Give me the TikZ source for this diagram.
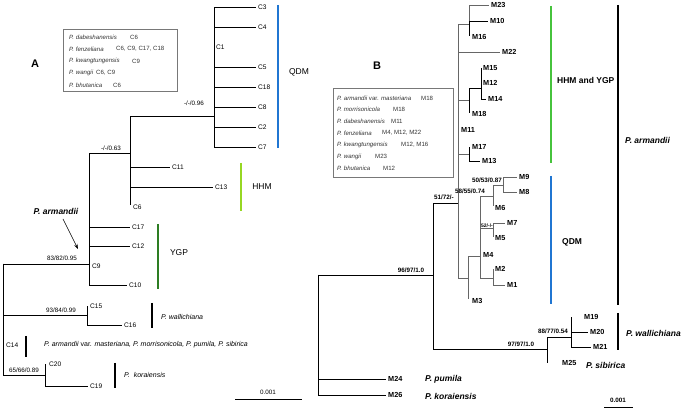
\documentclass[tikz,border=0pt]{standalone}
\usepackage{fontspec}
\setmainfont{Liberation Sans}
\usetikzlibrary{arrows.meta}
\definecolor{qdmblue}{RGB}{32,118,210}
\definecolor{hhmgreen}{RGB}{150,215,35}
\definecolor{ygpgreen}{RGB}{45,125,35}
\definecolor{bgreen}{RGB}{70,195,60}
\definecolor{boxgray}{RGB}{120,120,120}
\begin{document}
\begin{tikzpicture}[x=1pt,y=-1pt,
 br/.style={line width=0.75pt,draw=black},
 brg/.style={line width=0.75pt,draw=black!60},
 lab/.style={font=\fontsize{6.6}{7}\selectfont,inner sep=2pt,anchor=west},
 blab/.style={font=\bfseries\fontsize{7.3}{8}\selectfont,inner sep=2pt,anchor=west},
 supa/.style={font=\fontsize{6.3}{7}\selectfont,inner sep=0pt},
 supb/.style={font=\bfseries\fontsize{6.3}{7}\selectfont,inner sep=0pt},
 bar/.style={line width=2.4pt},
 leg/.style={font=\fontsize{6.1}{7}\selectfont\itshape,inner sep=0pt,anchor=west,text=black!80},
 legc/.style={font=\fontsize{6.1}{7}\selectfont,inner sep=0pt,anchor=west,text=black!80},
 big/.style={font=\fontsize{8.5}{10}\selectfont,inner sep=0pt},
 bigb/.style={font=\bfseries\fontsize{8.5}{10}\selectfont,inner sep=0pt,anchor=west},
 bigbi/.style={font=\bfseries\itshape\fontsize{8.5}{10}\selectfont,inner sep=0pt},
 spit/.style={font=\itshape\fontsize{7}{8}\selectfont,inner sep=0pt,anchor=west}]
\useasboundingbox (0,0) rectangle (686,411);

%================ Panel A =================
\node[font=\bfseries\fontsize{11}{12}\selectfont] (labA) at (35,64) {A};
\node[draw=boxgray,line width=0.5pt,minimum width=114pt,minimum height=62pt,inner sep=0pt] (legA) at (120,60) {};
\node[leg] (la1) at (69,37) {P. dabeshanensis};  \node[legc] (la1c) at (130,37) {C6};
\node[leg] (la2) at (69,49) {P. fenzeliana};     \node[legc] (la2c) at (116,49) {C6, C9, C17, C18};
\node[leg] (la3) at (69,61) {P. kwangtungensis}; \node[legc] (la3c) at (132,61) {C9};
\node[leg] (la4) at (69,73) {P. wangii};         \node[legc] (la4c) at (96,73) {C6, C9};
\node[leg] (la5) at (69,85) {P. bhutanica};      \node[legc] (la5c) at (113,85) {C6};

% internal nodes
\coordinate (aR) at (3,264);
\coordinate (a1) at (89,264);
\coordinate (a2) at (130,153);
\coordinate (a3) at (214,116);
\coordinate (a4) at (87,315);
\coordinate (a5) at (45,375);
% tips
\coordinate (tC3) at (256,7);   \coordinate (tC4) at (256,27);
\coordinate (tC1) at (214,47);  \coordinate (tC5) at (256,67);
\coordinate (tC18) at (256,87); \coordinate (tC8) at (256,107);
\coordinate (tC2) at (256,127); \coordinate (tC7) at (256,147);
\coordinate (tC11) at (170,167); \coordinate (tC13) at (213,187);
\coordinate (tC6) at (130,205);
\coordinate (tC17) at (130,227); \coordinate (tC12) at (130,246);
\coordinate (tC9) at (89,266);  \coordinate (tC10) at (127,285);
\coordinate (tC15) at (87,306); \coordinate (tC16) at (122,325);
\coordinate (tC14) at (3,345);
\coordinate (tC20) at (45,364); \coordinate (tC19) at (88,386);

\draw[br] (aR) -- (a1);
\draw[br] (aR) |- (a4);
\draw[br] (aR) |- (tC14);
\draw[br] (aR) |- (a5);
\draw[br] (a1) |- (a2);
\draw[br] (a1) |- (tC17);
\draw[br] (a1) |- (tC12);
\draw[br] (a1) |- (tC10);
\draw[br] (a2) |- (a3);
\draw[br] (a2) |- (tC11);
\draw[br] (a2) |- (tC13);
\draw[br] (a2) -- (tC6);
\foreach \t in {tC3,tC4,tC1,tC5,tC18,tC8,tC2,tC7} \draw[br] (a3) |- (\t);
\draw[br] (a4) -- (tC15);
\draw[br] (a4) |- (tC16);
\draw[br] (a5) -- (tC20);
\draw[br] (a5) |- (tC19);

\node[lab] (C3) at (tC3) {C3};
\node[lab] (C4) at (tC4) {C4};
\node[lab] (C1) at (tC1) {C1};
\node[lab] (C5) at (tC5) {C5};
\node[lab] (C18) at (tC18) {C18};
\node[lab] (C8) at (tC8) {C8};
\node[lab] (C2) at (tC2) {C2};
\node[lab] (C7) at (tC7) {C7};
\node[lab] (C11) at (tC11) {C11};
\node[lab] (C13) at (tC13) {C13};
\node[lab,yshift=-2pt,xshift=1pt] (C6) at (tC6) {C6};
\node[lab] (C17) at (tC17) {C17};
\node[lab] (C12) at (tC12) {C12};
\node[lab,xshift=1pt] (C9) at (tC9) {C9};
\node[lab] (C10) at (tC10) {C10};
\node[lab,xshift=1pt] (C15) at (tC15) {C15};
\node[lab] (C16) at (tC16) {C16};
\node[lab,xshift=1pt] (C14) at (tC14) {C14};
\node[lab,xshift=2pt] (C20) at (tC20) {C20};
\node[lab] (C19) at (tC19) {C19};

\node[supa] (sa3) at (194,103) {-/-/0.96};
\node[supa] (sa2) at (111,148) {-/-/0.63};
\node[supa] (sa1) at (62,258) {83/82/0.95};
\node[supa] (sa4) at (61,310) {93/84/0.99};
\node[supa] (sa5) at (24,370) {65/66/0.89};

% clade bars A
\draw[bar,qdmblue] (278,5) -- (278,148);
\node[big] (qdmA) at (299,72) {QDM};
\draw[bar,hhmgreen] (241,163) -- (241,211);
\node[big] (hhmA) at (262,187) {HHM};
\draw[bar,ygpgreen] (158,224) -- (158,289);
\node[big] (ygpA) at (179,253) {YGP};
\draw[bar,black] (152,303) -- (152,328);
\node[spit] (wallA) at (161,317) {P. wallichiana};
\draw[bar,black] (26,336) -- (26,357);
\node[spit] (c14txt) at (44,345) {P. armandii \upshape var.\itshape{} masteriana, P. morrisonicola, P. pumila, P. sibirica};
\draw[bar,black] (115,363) -- (115,388);
\node[spit] (korA) at (124,375) {P. \ koraiensis};

\node[bigbi] (armA) at (56,211) {P. armandii};
\coordinate (arrA1) at (63,219);
\coordinate (arrA2) at (78,249);
\draw[line width=0.6pt,-{Stealth[length=5pt,width=3.5pt]}] (arrA1) -- (arrA2);

\coordinate (scA1) at (235,400); \coordinate (scA2) at (302,400);
\draw[line width=1pt] (scA1) -- (scA2);
\node[supa] (scAl) at (268,392) {0.001};

%================ Panel B =================
\node[font=\bfseries\fontsize{11}{12}\selectfont] (labB) at (377,66) {B};
\node[draw=boxgray,line width=0.5pt,minimum width=120pt,minimum height=89pt,inner sep=0pt] (legB) at (393,132.5) {};
\node[leg] (lb1) at (337,98) {P. armandii \upshape var.\itshape{} masteriana}; \node[legc] (lb1c) at (421,98) {M18};
\node[leg] (lb2) at (337,109.7) {P. morrisonicola};  \node[legc] (lb2c) at (393,109.7) {M18};
\node[leg] (lb3) at (337,121.4) {P. dabeshanensis};  \node[legc] (lb3c) at (391,121.4) {M11};
\node[leg] (lb4) at (337,133.1) {P. fenzeliana};     \node[legc] (lb4c) at (382,133.1) {M4, M12, M22};
\node[leg] (lb5) at (337,144.8) {P. kwangtungensis}; \node[legc] (lb5c) at (401,144.8) {M12, M16};
\node[leg] (lb6) at (337,156.5) {P. wangii};         \node[legc] (lb6c) at (375,156.5) {M23};
\node[leg] (lb7) at (337,168.2) {P. bhutanica};      \node[legc] (lb7c) at (383,168.2) {M12};

% internal nodes
\coordinate (bR) at (318,275);
\coordinate (b1) at (433,275);
\coordinate (b2) at (458,203);
\coordinate (b9) at (547,349);
\coordinate (b3) at (469,24);
\coordinate (b4) at (469,100);
\coordinate (b4a) at (481,88);
\coordinate (b5) at (469,154);
\coordinate (b6) at (468,278);
\coordinate (b7) at (480,256);
\coordinate (b8) at (493,196);
\coordinate (b12) at (503,185);
\coordinate (b10) at (493,228);
\coordinate (b11) at (493,278);
\coordinate (b13) at (571,337);
% tips
\coordinate (tM24) at (386,379); \coordinate (tM26) at (386,395);
\coordinate (tM23) at (489,5);   \coordinate (tM10) at (488,21);  \coordinate (tM16) at (469,36);
\coordinate (tM22) at (500,52);
\coordinate (tM15) at (481,68);  \coordinate (tM12) at (481,83);  \coordinate (tM14) at (486,99);
\coordinate (tM18) at (469,113);
\coordinate (tM11) at (458,130);
\coordinate (tM17) at (469,147); \coordinate (tM13) at (480,161);
\coordinate (tM9) at (517,177);  \coordinate (tM8) at (517,192);
\coordinate (tM6) at (493,206);
\coordinate (tM7) at (505,223);  \coordinate (tM5) at (493,237);
\coordinate (tM4) at (480,255);
\coordinate (tM2) at (493,269);  \coordinate (tM1) at (505,285);
\coordinate (tM3) at (468,299);
\coordinate (tM19) at (571,317); \coordinate (tM20) at (588,332); \coordinate (tM21) at (591,347);
\coordinate (tM25) at (547,363);

\draw[br] (bR) -- (b1);
\draw[br] (bR) |- (tM24);
\draw[br] (bR) |- (tM26);
\draw[br] (b1) |- (b2);
\draw[br] (b1) |- (b9);
\draw[brg] (b2) |- (b3);
\draw[brg] (b2) |- (tM22);
\draw[brg] (b2) |- (b4);
\draw[brg] (b2) -- (tM11);
\draw[brg] (b2) |- (b5);
\draw[brg] (b2) |- (b6);
\draw[brg] (b3) |- (tM23);
\draw[br]  (b3) |- (tM10);
\draw[br]  (b3) -- (tM16);
\draw[br]  (b4) |- (b4a);
\draw[br]  (b4) -- (tM18);
\draw[br]  (b4a) |- (tM15);
\draw[br]  (b4a) |- (tM14);
\draw[br]  (b5) -- (tM17);
\draw[br]  (b5) |- (tM13);
\draw[brg] (b6) |- (b7);
\draw[brg] (b6) -- (tM3);
\draw[brg] (b7) |- (b8);
\draw[brg] (b7) |- (b10);
\draw[brg] (b7) |- (b11);
\draw[brg] (b8) |- (b12);
\draw[brg] (b8) -- (tM6);
\draw[brg] (b12) |- (tM9);
\draw[brg] (b12) |- (tM8);
\draw[brg] (b10) |- (tM7);
\draw[brg] (b10) -- (tM5);
\draw[brg] (b11) -- (tM2);
\draw[brg] (b11) |- (tM1);
\draw[br]  (b9) |- (b13);
\draw[br]  (b9) -- (tM25);
\draw[br]  (b13) -- (tM19);
\draw[br]  (b13) |- (tM20);
\draw[br]  (b13) |- (tM21);

\node[blab] (M24) at (tM24) {M24};
\node[blab] (M26) at (tM26) {M26};
\node[blab] (M23) at (tM23) {M23};
\node[blab] (M10) at (tM10) {M10};
\node[blab,xshift=1pt,yshift=-1pt] (M16) at (tM16) {M16};
\node[blab] (M22) at (tM22) {M22};
\node[blab] (M15) at (tM15) {M15};
\node[blab] (M12) at (tM12) {M12};
\node[blab] (M14) at (tM14) {M14};
\node[blab,xshift=1pt,yshift=-1pt] (M18) at (tM18) {M18};
\node[blab,xshift=1pt] (M11) at (tM11) {M11};
\node[blab,xshift=1pt] (M17) at (tM17) {M17};
\node[blab] (M13) at (tM13) {M13};
\node[blab] (M9) at (tM9) {M9};
\node[blab] (M8) at (tM8) {M8};
\node[blab,yshift=-2pt] (M6) at (tM6) {M6};
\node[blab] (M7) at (tM7) {M7};
\node[blab,yshift=-1pt] (M5) at (tM5) {M5};
\node[blab,xshift=1pt] (M4) at (tM4) {M4};
\node[blab] (M2) at (tM2) {M2};
\node[blab] (M1) at (tM1) {M1};
\node[blab,xshift=2pt,yshift=-2pt] (M3) at (tM3) {M3};
\node[blab,xshift=11pt] (M19) at (tM19) {M19};
\node[blab] (M20) at (tM20) {M20};
\node[blab] (M21) at (tM21) {M21};
\node[blab,xshift=13pt] (M25) at (tM25) {M25};

\node[supb] (sb2) at (444,197) {51/72/-};
\node[supb] (sb1) at (411,270) {96/97/1.0};
\node[supb] (sb8) at (470,191) {58/55/0.74};
\node[supb] (sb12) at (487,180) {50/53/0.87};
\node[supb,font=\bfseries\fontsize{5}{6}\selectfont] (sb10) at (487,226) {52/-/-};
\node[supb] (sb9) at (521,344) {97/97/1.0};
\node[supb] (sb13) at (553,331) {88/77/0.54};

% clade bars B
\draw[bar,bgreen] (551,6) -- (551,163);
\node[bigb] (hyB) at (557,80) {HHM and YGP};
\draw[bar,qdmblue] (551,176) -- (551,304);
\node[bigb] (qdmB) at (562,242) {QDM};
\draw[bar,black] (618,5) -- (618,305);
\node[bigbi,anchor=west] (armB) at (625,140) {P. armandii};
\draw[bar,black] (618,313) -- (618,350);
\node[bigbi,anchor=west] (wallB) at (626,333) {P. wallichiana};
\node[bigbi,anchor=west] (sibB) at (586,365) {P. sibirica};
\node[bigbi,anchor=west] (pumB) at (425,379) {P. pumila};
\node[bigbi,anchor=west] (korB) at (425,396) {P. koraiensis};

\coordinate (scB1) at (604,407); \coordinate (scB2) at (633,407);
\draw[line width=0.8pt] (scB1) -- (scB2);
\node[supb] (scBl) at (618,400) {0.001};
\end{tikzpicture}
\end{document}
